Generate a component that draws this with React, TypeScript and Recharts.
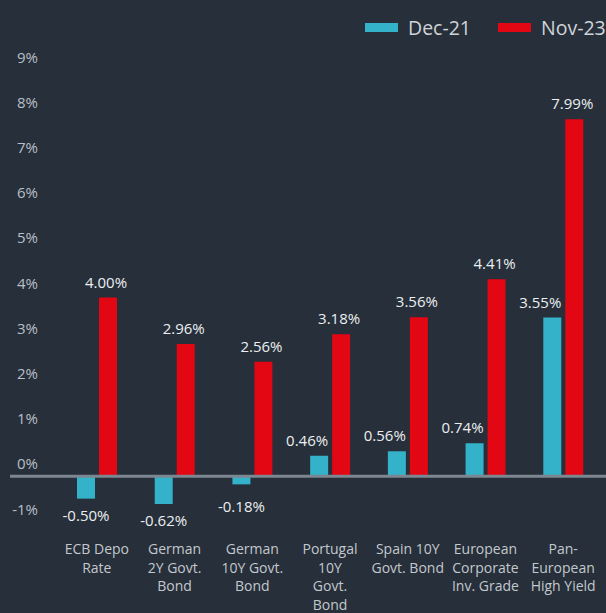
import { BarChart, Bar, XAxis, YAxis, ReferenceLine, LabelList } from 'recharts'

// Rendimientos: Dec-21 vs Nov-23
const categories = [
  'ECB Depo Rate',
  'German 2Y Govt. Bond',
  'German 10Y Govt. Bond',
  'Portugal 10Y Govt. Bond',
  'Spain 10Y Govt. Bond',
  'European Corporate Inv. Grade',
  'Pan-European High Yield',
]
const categoryLines = [
  ['ECB Depo', 'Rate'],
  ['German', '2Y Govt.', 'Bond'],
  ['German', '10Y Govt.', 'Bond'],
  ['Portugal', '10Y', 'Govt.', 'Bond'],
  ['Spain 10Y', 'Govt. Bond'],
  ['European', 'Corporate', 'Inv. Grade'],
  ['Pan-', 'European', 'High Yield'],
]
const dec21 = [-0.5, -0.62, -0.18, 0.46, 0.56, 0.74, 3.55]
const nov23 = [4.0, 2.96, 2.56, 3.18, 3.56, 4.41, 7.99]
const yTicks = [-1, 0, 1, 2, 3, 4, 5, 6, 7, 8, 9]
const seriesNames = ['Dec-21', 'Nov-23']

const BG = '#262f3a'
const TEAL = '#33b2c9'
const RED = '#e30613'
const FONT = '"Open Sans", "Noto Sans", sans-serif'

const data = categories.map((name, i) => ({ name, dec21: dec21[i], nov23: nov23[i] }))

function PercentTick({ x, y, payload }: any) {
  const v = Number(payload.value)
  return (
    <text x={x} y={y - 12 - 0.5 * v + 5} textAnchor="end" fill="#b9bfc5" fontSize={15} fontFamily={FONT}>
      {v}%
    </text>
  )
}

function CategoryTick({ x, y, payload }: any) {
  const idx = categories.indexOf(payload.value)
  const lines = categoryLines[idx] ?? [String(payload.value)]
  return (
    <text x={x} y={y} textAnchor="middle" fill="#c3c8cd" fontSize={14} fontFamily={FONT}>
      {lines.map((l, i) => (
        <tspan key={i} x={x} dy={i === 0 ? 33 : 18.7}>
          {l}
        </tspan>
      ))}
    </text>
  )
}

function makeLabel(kind: 'teal' | 'red') {
  return (props: any) => {
    const vb = props.viewBox ?? props
    const x = Number(props.x ?? vb.x)
    const y = Number(props.y ?? vb.y)
    const width = Number(props.width ?? vb.width)
    const height = Number(props.height ?? vb.height)
    const v = Number(props.value)
    const top = Math.min(y, y + height)
    const bottom = Math.max(y, y + height)
    let tx = x + width / 2
    let ty = top - 10
    let anchor: 'middle' | 'end' = 'middle'
    if (v < 0) {
      ty = Math.max(bottom + 17, top + 31) + 5
    } else if (kind === 'teal') {
      tx = x + width
      anchor = 'end'
    } else {
      tx -= 2
    }
    return (
      <text x={tx} y={ty} textAnchor={anchor} fill="#eceef0" fontSize={15} fontFamily={FONT}>
        {v.toFixed(2)}%
      </text>
    )
  }
}

function ZeroLine(props: any) {
  return <line x1={10} x2={606} y1={props.y1} y2={props.y1} stroke="#7d8791" strokeWidth={3} />
}

export default function App() {
  return (
    <div style={{ position: 'absolute', left: 0, top: 0, width: 606, height: 613, background: BG, overflow: 'hidden' }}>
      <div style={{ position: 'absolute', top: 0, left: 365, display: 'flex', alignItems: 'center', height: 54, whiteSpace: 'nowrap', fontFamily: FONT, fontSize: 19.5, color: '#d0d4d8' }}>
        {seriesNames.map((n, i) => (
          <span key={n} style={{ display: 'flex', alignItems: 'center', marginRight: 27 }}>
            <span style={{ width: 33, height: 9, background: i === 0 ? TEAL : RED, marginRight: 10 }} />
            {n}
          </span>
        ))}
      </div>
      <BarChart
        width={606}
        height={613}
        data={data}
        margin={{ top: 74, right: 4, left: 0, bottom: 0 }}
        barSize={18}
        barGap={4}
      >
        <YAxis
          width={58}
          domain={[-1, 9]}
          ticks={yTicks}
          interval={0}
          axisLine={false}
          tickLine={false}
          tickSize={0}
          tickMargin={20}
          tick={<PercentTick />}
        />
        <XAxis
          dataKey="name"
          height={92}
          interval={0}
          axisLine={false}
          tickLine={false}
          tickSize={0}
          tickMargin={0}
          tick={<CategoryTick />}
        />
        <ReferenceLine y={0} shape={<ZeroLine />} />
        <Bar dataKey="dec21" name={seriesNames[0]} fill={TEAL} isAnimationActive={false}>
          <LabelList dataKey="dec21" content={makeLabel('teal')} />
        </Bar>
        <Bar dataKey="nov23" name={seriesNames[1]} fill={RED} isAnimationActive={false}>
          <LabelList dataKey="nov23" content={makeLabel('red')} />
        </Bar>
      </BarChart>
    </div>
  )
}
